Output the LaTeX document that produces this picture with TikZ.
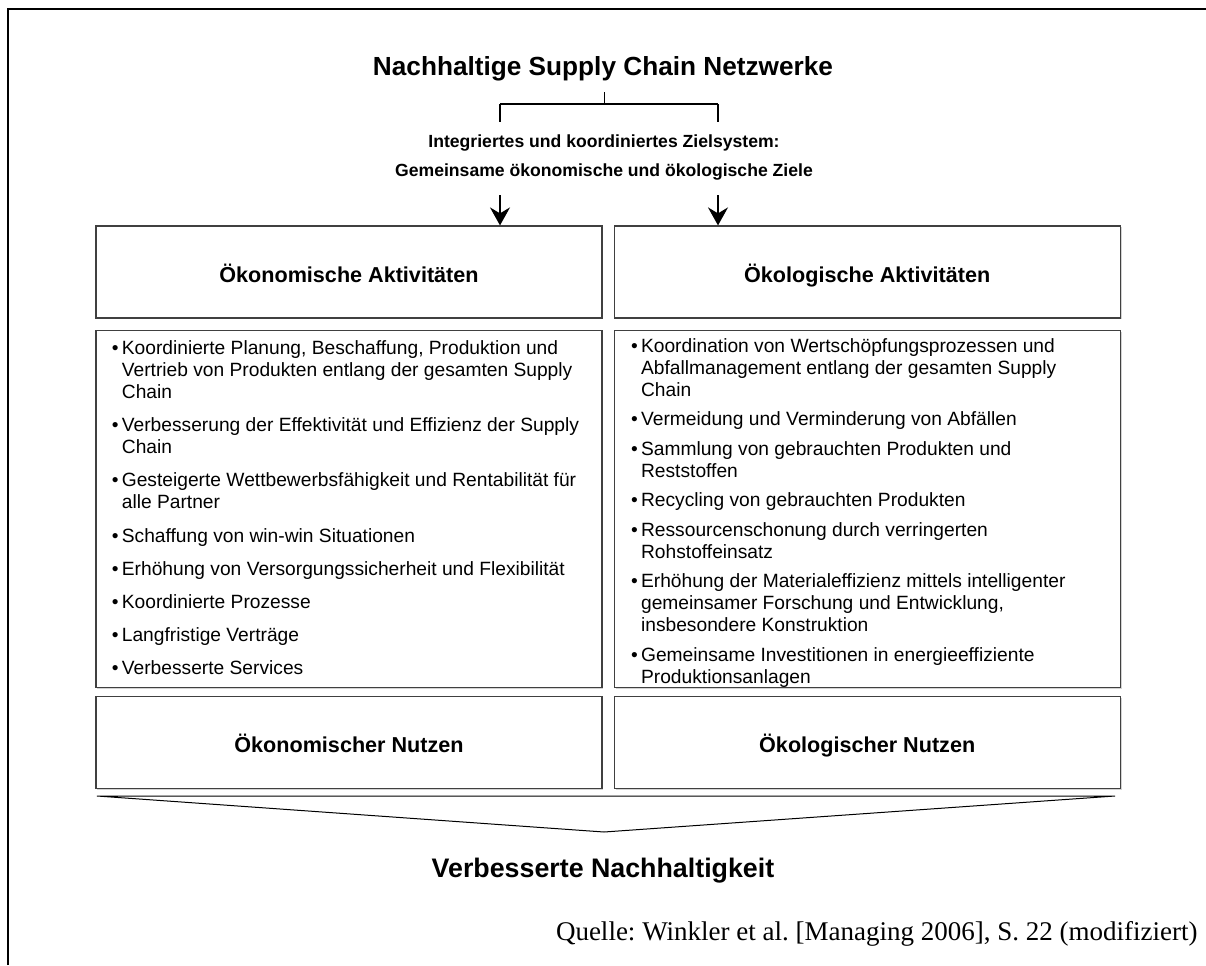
\documentclass[tikz,border=0pt]{standalone}
\usepackage{fontspec}
\setmainfont{Liberation Sans}
\newfontfamily\quellfont{Liberation Serif}
\usetikzlibrary{positioning,arrows.meta,shadows}

\tikzset{
  kasten/.style={draw=black!75, line width=0.6pt, fill=white, minimum width=253pt, inner sep=0pt,
    drop shadow={shadow xshift=0.7pt, shadow yshift=-0.7pt, opacity=0.35}},
  kopf/.style={kasten, minimum height=46pt, text height=10.5pt, text depth=0pt,
    font=\bfseries\fontsize{10.8}{13}\selectfont},
  liste/.style={kasten, minimum height=178.5pt},
  punkte/.style={anchor=north west, inner sep=0pt, font=\fontsize{9.6}{11}\selectfont},
  pfeil/.style={->, line width=1pt},
}
% one bullet point with hanging indent
\newcommand{\punkt}[1]{\hangindent=5pt\hangafter=1\noindent\makebox[5pt][l]{\textbullet}#1\par}
% list block: #1 = gap between the points
\newcommand{\liste}[2]{\begin{minipage}[t]{242pt}\raggedright\hyphenpenalty=10000
  \setlength{\parskip}{#1}#2\end{minipage}}

\begin{document}
\frenchspacing
\begin{tikzpicture}[x=0.5pt, y=-0.5pt, line width=0.5pt, >={Stealth[length=9pt,width=10pt,inset=3pt]}]

		\useasboundingbox (0,0) rectangle (1206,965);

		%page frame
		\draw[line width=1pt] (8,965) -- (8,9) -- (1206,9);

		%heading and the common goals
		\node[anchor=base, font=\bfseries\fontsize{13.1}{15}\selectfont] (titel) at (603,75) {Nachhaltige Supply Chain Netzwerke};
		\node[anchor=base, font=\bfseries\fontsize{8.8}{11}\selectfont] (ziel1) at (604,147) {Integriertes und koordiniertes Zielsystem:};
		\node[anchor=base, font=\bfseries\fontsize{8.8}{11}\selectfont] (ziel2) at (604,176) {Gemeinsame ökonomische und ökologische Ziele};

		%the bracket below the heading
		\coordinate (stiel) at (604,92);
		\coordinate (gabel) at (604,104);
		\coordinate (gl) at (500,104);
		\coordinate (gr) at (718,104);
		\coordinate (glu) at (500,122);
		\coordinate (gru) at (718,122);
		\draw (stiel) -- (gabel);
		\draw[line width=0.7pt] (gl) -- (gr);
		\draw[line width=1pt] (gl) -- (glu);
		\draw[line width=1pt] (gr) -- (gru);

		%the two columns
		\node[kopf] (oekonAkt) at (349,272) {Ökonomische Aktivitäten};
		\node[kopf, right=5.5pt of oekonAkt] (oekolAkt) {Ökologische Aktivitäten};

		\node[liste, below=5.5pt of oekonAkt] (oekonListe) {};
		\node[liste, below=5.5pt of oekolAkt] (oekolListe) {};

		\node[kopf, below=4pt of oekonListe] (oekonNutzen) {Ökonomischer Nutzen};
		\node[kopf, below=4pt of oekolListe] (oekolNutzen) {Ökologischer Nutzen};

		% goals lead into both columns
		\coordinate (pl) at (500,195);
		\coordinate (pr) at (718,195);
		\draw[pfeil] (pl) -- (pl |- oekonAkt.north);
		\draw[pfeil] (pr) -- (pr |- oekolAkt.north);

		%bullet lists
		\node[punkte] (oekonPunkte) at ([xshift=8pt, yshift=-5.2pt]oekonListe.north west) {\liste{5.6pt}{%
			\punkt{Koordinierte Planung, Beschaffung, Produktion und\newline Vertrieb von Produkten entlang der gesamten Supply\newline Chain}
			\punkt{Verbesserung der Effektivität und Effizienz der Supply\newline Chain}
			\punkt{Gesteigerte Wettbewerbsfähigkeit und Rentabilität für\newline alle Partner}
			\punkt{Schaffung von win-win Situationen}
			\punkt{Erhöhung von Versorgungssicherheit und Flexibilität}
			\punkt{Koordinierte Prozesse}
			\punkt{Langfristige Verträge}
			\punkt{Verbesserte Services}}};

		\node[punkte] (oekolPunkte) at ([xshift=8.5pt, yshift=-4pt]oekolListe.north west) {\liste{3.75pt}{%
			\punkt{Koordination von Wertschöpfungsprozessen und\newline Abfallmanagement entlang der gesamten Supply\newline Chain}
			\punkt{Vermeidung und Verminderung von Abfällen}
			\punkt{Sammlung von gebrauchten Produkten und\newline Reststoffen}
			\punkt{Recycling von gebrauchten Produkten}
			\punkt{Ressourcenschonung durch verringerten\newline Rohstoffeinsatz}
			\punkt{Erhöhung der Materialeffizienz mittels intelligenter\newline gemeinsamer Forschung und Entwicklung,\newline insbesondere Konstruktion}
			\punkt{Gemeinsame Investitionen in energieeffiziente\newline Produktionsanlagen}}};

		% both benefits merge into the result
		\coordinate (dl) at (97,796);
		\coordinate (dr) at (1115,796);
		\coordinate (spitze) at (604,832);
		\draw (dl) -- (dr) -- (spitze) -- cycle;

		\node[anchor=base, font=\bfseries\fontsize{13.4}{16}\selectfont] (ergebnis) at (603,877) {Verbesserte Nachhaltigkeit};
		\node[anchor=base east, inner sep=0pt, font=\quellfont\fontsize{13.5}{16}\selectfont] (quelle) at (1198,940) {Quelle: Winkler et al. [Managing 2006], S. 22 (modifiziert)};

\end{tikzpicture}
\end{document}
